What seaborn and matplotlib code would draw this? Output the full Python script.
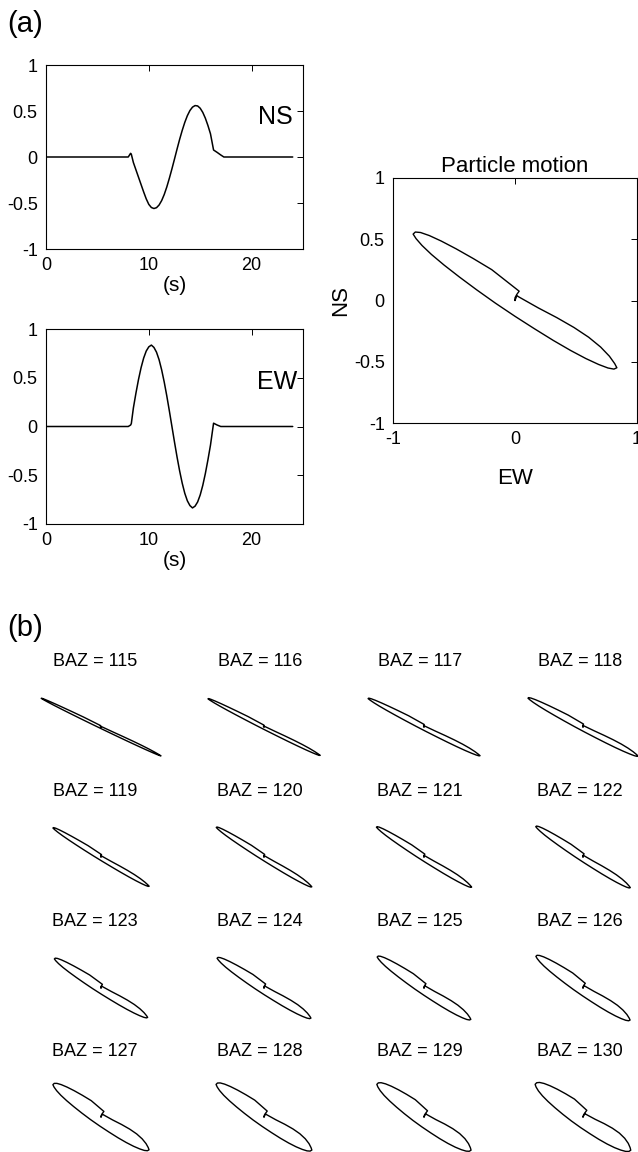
import numpy as np
import pandas as pd
import matplotlib
matplotlib.use("Agg")
import matplotlib.pyplot as plt
import seaborn as sns

# ---------------- data ----------------
time_s = [0.0, 8.0, 8.23, 8.3, 8.5, 8.75, 9.0, 9.25, 9.5, 9.75, 10.0, 10.25, 10.5,
          10.75, 11.0, 11.25, 11.5, 11.75, 12.0, 12.25, 12.5, 12.75, 13.0, 13.25,
          13.5, 13.75, 14.0, 14.25, 14.5, 14.75, 15.0, 15.25, 15.5, 15.75, 16.0,
          16.3, 16.65, 17.0, 17.3, 24.0]
ew = [0.0, 0.0, 0.015, 0.03, 0.19, 0.343, 0.483, 0.604, 0.702, 0.774, 0.817, 0.835, 0.811,
      0.762, 0.685, 0.581, 0.456, 0.314, 0.160, 0.0, -0.160, -0.314, -0.456, -0.581,
      -0.685, -0.762, -0.811, -0.835, -0.817, -0.774, -0.702, -0.604, -0.483, -0.343, -0.191,
      0.034, 0.015, 0.0, 0.0, 0.0]
ns = [0.0, 0.0, 0.04, 0.03, -0.06, -0.14, -0.22, -0.30, -0.38, -0.455, -0.515, -0.549, -0.560,
      -0.551, -0.522, -0.474, -0.408, -0.326, -0.231, -0.129, -0.022, 0.087, 0.192, 0.289,
      0.376, 0.449, 0.505, 0.542, 0.559, 0.555, 0.530, 0.485, 0.422, 0.343, 0.252,
      0.076, 0.05, 0.022, 0.0, 0.0]

main_axis_deg = 34.0  # orientation of the main particle motion

baz = list(range(115, 131))
pm_angle_deg = [25.8, 27.0, 27.4, 28.2, 31.6, 32.3, 32.7, 33.4,
                32.8, 33.3, 34.5, 35.0, 35.2, 35.6, 36.2, 35.9]
pm_scale = [1.11, 1.05, 1.05, 1.04, 0.94, 0.94, 0.94, 0.94,
            0.92, 0.93, 0.94, 0.95, 0.97, 0.97, 0.96, 0.97]
pm_width = [0.2, 0.32, 0.45, 0.55, 0.5, 0.55, 0.62, 0.7,
            0.85, 0.92, 1.0, 1.1, 1.3, 1.4, 1.5, 1.6]

amp_ticks = [-1, -0.5, 0, 0.5, 1]
amp_tick_labels = ["-1", "-0.5", "0", "0.5", "1"]
time_ticks = [0, 10, 20]
time_tick_labels = ["0", "10", "20"]
pm_xticks = [-1, 0, 1]
pm_xtick_labels = ["-1", "0", "1"]

# ---------------- style ----------------
sns.set_style("white")
plt.rcParams['font.family'] = ['Liberation Sans', 'DejaVu Sans']
plt.rcParams['axes.unicode_minus'] = False
plt.rcParams['text.color'] = 'black'
plt.rcParams['axes.labelcolor'] = 'black'
plt.rcParams['xtick.color'] = 'black'
plt.rcParams['ytick.color'] = 'black'

W, H = 638, 1152
fig = plt.figure(figsize=(W / 100, H / 100), dpi=100)


def px_axes(left, top, right, bottom):
    return fig.add_axes([left / W, 1 - bottom / H, (right - left) / W, (bottom - top) / H])


def matlab_box(ax):
    for s in ax.spines.values():
        s.set_visible(True)
        s.set_color('black')
        s.set_linewidth(0.8)
    ax.tick_params(direction='in', top=True, right=True, length=4, width=0.7,
                   labelsize=13, colors='black', pad=6)


df = pd.DataFrame({"t": time_s, "EW": ew, "NS": ns})

# NS trace
ax_ns = px_axes(46, 65, 303, 249)
sns.lineplot(data=df, x="t", y="NS", color="black", lw=1.1, ax=ax_ns, estimator=None, sort=False)
ax_ns.set_xlim(0, 25)
ax_ns.set_ylim(-1, 1)
ax_ns.set_xticks(time_ticks, time_tick_labels)
ax_ns.set_yticks(amp_ticks, amp_tick_labels)
ax_ns.set_xlabel("(s)", fontsize=15, labelpad=1)
ax_ns.set_ylabel("")
ax_ns.text(24.0, 0.44, "NS", fontsize=18, ha="right", va="center")
matlab_box(ax_ns)

# EW trace
ax_ew = px_axes(46, 329, 303, 524)
sns.lineplot(data=df, x="t", y="EW", color="black", lw=1.1, ax=ax_ew, estimator=None, sort=False)
ax_ew.set_xlim(0, 25)
ax_ew.set_ylim(-1, 1)
ax_ew.set_xticks(time_ticks, time_tick_labels)
ax_ew.set_yticks(amp_ticks, amp_tick_labels)
ax_ew.set_xlabel("(s)", fontsize=15, labelpad=1)
ax_ew.set_ylabel("")
ax_ew.text(24.4, 0.46, "EW", fontsize=18, ha="right", va="center")
matlab_box(ax_ew)

# Particle motion
ax_pm = px_axes(393, 178, 637, 423)
sns.lineplot(data=df, x="EW", y="NS", color="black", lw=1.0, ax=ax_pm, estimator=None, sort=False)
ax_pm.set_xlim(-1, 1)
ax_pm.set_ylim(-1, 1)
ax_pm.set_xticks(pm_xticks, pm_xtick_labels)
ax_pm.set_yticks(amp_ticks, amp_tick_labels)
ax_pm.set_title("Particle motion", fontsize=16, pad=4)
ax_pm.set_xlabel("EW", fontsize=16, labelpad=14)
ax_pm.set_ylabel("NS", fontsize=16, labelpad=2)
matlab_box(ax_pm)

fig.text(7 / W, 1 - 24 / H, "(a)", fontsize=21, ha="left", va="center")
fig.text(7 / W, 1 - 628 / H, "(b)", fontsize=21, ha="left", va="center")

# ---------------- (b) small particle motions ----------------
a = np.deg2rad(main_axis_deg)
ew_a = np.asarray(ew)
ns_a = np.asarray(ns)
radial = ew_a * np.cos(a) - ns_a * np.sin(a)
transverse = ew_a * np.sin(a) + ns_a * np.cos(a)

shape_cx = [101, 264, 424, 583]
shape_cy = [727, 857, 988, 1117]
title_cx = [95, 260, 420, 580]
title_cy = [662, 792, 922, 1052]
box_w, box_h, ppu = 150, 90, 60.0

for i, b in enumerate(baz):
    r, c = divmod(i, 4)
    cx, cy = shape_cx[c], shape_cy[r]
    ax = px_axes(cx - box_w / 2, cy - box_h / 2, cx + box_w / 2, cy + box_h / 2)
    th = np.deg2rad(pm_angle_deg[i])
    s, k = pm_scale[i], pm_width[i]
    x = s * (radial * np.cos(th) + k * transverse * np.sin(th))
    y = s * (-radial * np.sin(th) + k * transverse * np.cos(th))
    sub = pd.DataFrame({"x": x, "y": y})
    sns.lineplot(data=sub, x="x", y="y", color="black", lw=1.0, ax=ax,
                 estimator=None, sort=False)
    ax.set_xlim(-box_w / 2 / ppu, box_w / 2 / ppu)
    ax.set_ylim(-box_h / 2 / ppu, box_h / 2 / ppu)
    ax.axis("off")
    for ln in ax.lines:
        ln.set_clip_on(False)
    fig.text(title_cx[c] / W, 1 - title_cy[r] / H, f"BAZ = {b}", fontsize=13,
             ha="center", va="center")

fig.savefig("out.png", dpi=100)
